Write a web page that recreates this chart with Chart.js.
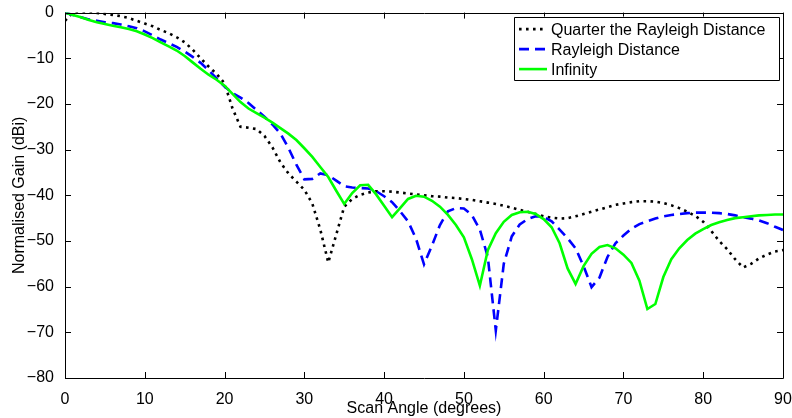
<!DOCTYPE html>
<html>
<head>
<meta charset="utf-8">
<script src="https://cdn.jsdelivr.net/npm/chart.js@4/dist/chart.umd.min.js"></script>
<style>
  html, body { margin: 0; padding: 0; background: #fff; }
  #wrap { width: 792px; height: 418px; }
</style>
</head>
<body>
<div id="wrap"><canvas id="gain_chart" width="792" height="418"></canvas></div>
<script>
// scan angles in degrees, one point per degree
const angles = Array.from({ length: 91 }, (_, i) => i)

// normalised gain (dBi)
const quarter_rayleigh = [
  -1.8, 0, 0, 0, -0.1, -0.3, -0.5, -0.8, -1.2, -1.8,
  -2.4, -3.0, -3.8, -4.5, -5.4, -6.5, -8.1, -10.0, -11.8, -13.4,
  -15.5, -21.0, -25.0, -25.2, -25.5, -27.0, -29.5, -32.8, -35.2, -37.0,
  -38.8, -41.8, -47.5, -54.7, -48.6, -42.5, -40.8, -39.9, -39.4, -39.1,
  -39.1, -39.2, -39.4, -39.6, -39.8, -40.0, -40.2, -40.3, -40.5, -40.6,
  -40.8, -41.0, -41.3, -41.6, -41.9, -42.3, -42.7, -43.2, -43.6, -44.1,
  -44.6, -44.9, -45.1, -45.0, -44.6, -44.1, -43.6, -43.1, -42.6, -42.1,
  -41.8, -41.5, -41.3, -41.3, -41.4, -41.7, -42.2, -42.8, -43.6, -44.5,
  -45.8, -47.8, -50.0, -51.8, -54.0, -55.8, -55.0, -53.8, -53.0, -52.3,
  -52.0
]

const rayleigh = [
  0, -0.5, -1.0, -1.5, -1.8, -2.1, -2.3, -2.6, -3.0, -3.4,
  -4.1, -5.0, -5.9, -6.7, -7.5, -8.5, -9.7, -11.0, -12.6, -14.4,
  -16.2, -17.6, -18.6, -19.8, -21.3, -22.8, -24.5, -26.5, -29.6, -33.3,
  -36.5, -36.4, -35.2, -35.6, -36.8, -38.0, -38.3, -38.4, -38.5, -39.1,
  -40.2, -41.5, -43.5, -45.7, -49.5, -55.1, -51.0, -46.5, -43.5, -42.8,
  -42.9, -44.3, -47.5, -53.5, -69.6, -55.0, -49.0, -46.4, -45.2, -44.6,
  -44.7, -45.7, -47.5, -49.4, -51.6, -55.5, -60.1, -58.0, -53.5, -50.5,
  -48.8, -47.3, -46.3, -45.7, -45.1, -44.6, -44.3, -44.1, -43.9, -43.8,
  -43.8, -43.8, -43.9, -44.1, -44.4, -44.8, -45.1, -45.5, -46.1, -46.9,
  -47.6
]

const infinity = [
  0, -0.5, -1.0, -1.6, -2.1, -2.5, -2.9, -3.2, -3.6, -4.1,
  -4.8, -5.6, -6.5, -7.4, -8.3, -9.5, -10.9, -12.3, -13.6, -14.7,
  -16.0, -17.8, -19.6, -21.0, -22.0, -23.0, -24.1, -25.3, -26.5, -27.9,
  -29.7, -31.6, -33.8, -36.0, -39.0, -41.9, -39.5, -37.8, -37.7, -39.8,
  -42.3, -44.8, -42.8, -40.8, -40.1, -40.3, -41.2, -42.5, -44.3, -46.5,
  -49.2, -54.0, -59.8, -52.0, -48.3, -45.8, -44.3, -43.7, -43.6, -44.1,
  -45.2, -47.0, -50.5, -56.0, -59.4, -55.5, -52.8, -51.3, -50.9, -51.6,
  -53.0, -54.8, -58.7, -64.9, -63.8, -57.9, -54.0, -51.6, -49.8, -48.4,
  -47.4, -46.5, -45.9, -45.4, -45.0, -44.8, -44.6, -44.4, -44.3, -44.2,
  -44.2
]

const series_names = ["Quarter the Rayleigh Distance", "Rayleigh Distance", "Infinity"]
const x_ticks = [0, 10, 20, 30, 40, 50, 60, 70, 80, 90]
const y_ticks = [-80, -70, -60, -50, -40, -30, -20, -10, 0]

const font_name = "'Liberation Sans', Arial, sans-serif"

function to_points(vals) {
  return angles.map((a, i) => ({ x: a, y: vals[i] }))
}

// matlab style box with inward ticks and the legend in the corner
const box_plugin = {
  id: 'box_plugin',
  afterDatasetsDraw(chart) {
    const ctx = chart.ctx
    const a = chart.chartArea
    const xs = chart.scales.x
    const ys = chart.scales.y
    const tl = 6
    ctx.save()
    ctx.strokeStyle = '#000'
    ctx.lineWidth = 1
    ctx.beginPath()
    ctx.rect(Math.round(a.left) + 0.5, Math.round(a.top) + 0.5,
             Math.round(a.right - a.left), Math.round(a.bottom - a.top))
    x_ticks.forEach(v => {
      const px = Math.round(xs.getPixelForValue(v)) + 0.5
      ctx.moveTo(px, a.bottom); ctx.lineTo(px, a.bottom - tl)
      ctx.moveTo(px, a.top); ctx.lineTo(px, a.top + tl)
    })
    y_ticks.forEach(v => {
      const py = Math.round(ys.getPixelForValue(v)) + 0.5
      ctx.moveTo(a.left, py); ctx.lineTo(a.left + tl, py)
      ctx.moveTo(a.right, py); ctx.lineTo(a.right - tl, py)
    })
    ctx.stroke()

    // legend
    const lx1 = a.right - 269, lx2 = a.right - 4
    const ly1 = a.top + 4, ly2 = a.top + 67
    ctx.fillStyle = '#fff'
    ctx.fillRect(lx1, ly1, lx2 - lx1, ly2 - ly1)
    ctx.beginPath()
    ctx.rect(Math.round(lx1) + 0.5, Math.round(ly1) + 0.5, Math.round(lx2 - lx1), Math.round(ly2 - ly1))
    ctx.stroke()
    ctx.font = '16px ' + font_name
    ctx.textBaseline = 'middle'
    chart.data.datasets.forEach((ds, i) => {
      const yy = ly1 + 12.5 + i * 20
      ctx.strokeStyle = ds.borderColor
      ctx.lineWidth = ds.borderWidth
      ctx.lineCap = 'butt'
      ctx.setLineDash(ds.borderDash || [])
      ctx.beginPath()
      ctx.moveTo(lx1 + 5, yy); ctx.lineTo(lx1 + 33, yy)
      ctx.stroke()
      ctx.setLineDash([])
      ctx.fillStyle = '#000'
      ctx.fillText(ds.label, lx1 + 37, yy + 1)
    })
    ctx.restore()
  }
}

new Chart(document.getElementById('gain_chart'), {
  type: 'line',
  data: {
    datasets: [
      { label: series_names[0], data: to_points(quarter_rayleigh), borderColor: '#000000',
        borderWidth: 2.6, borderDash: [2.6, 4.4], order: 2 },
      { label: series_names[1], data: to_points(rayleigh), borderColor: '#0000ff',
        borderWidth: 2.6, borderDash: [10, 6], order: 1 },
      { label: series_names[2], data: to_points(infinity), borderColor: '#00ff00',
        borderWidth: 2.6, order: 0 }
    ]
  },
  options: {
    responsive: false,
    animation: false,
    events: [],
    elements: { point: { radius: 0 }, line: { tension: 0, borderCapStyle: 'butt' } },
    layout: { padding: { top: 10, right: 9, left: 0, bottom: 0 } },
    plugins: { legend: { display: false }, tooltip: { enabled: false } },
    scales: {
      x: {
        type: 'linear', min: 0, max: 90,
        afterFit: s => { s.height = 40; s.paddingLeft = 0; s.paddingRight = 0 },
        afterBuildTicks: s => { s.ticks = x_ticks.map(v => ({ value: v })) },
        grid: { display: false },
        border: { display: false },
        ticks: { color: '#000', padding: 4, font: { family: font_name, size: 16 }, maxRotation: 0 },
        title: { display: true, text: 'Scan Angle (degrees)', color: '#000',
                 font: { family: font_name, size: 16 }, padding: { top: -6, bottom: 0 } }
      },
      y: {
        min: -80, max: 0,
        afterFit: s => { s.width = 65 },
        afterBuildTicks: s => { s.ticks = y_ticks.map(v => ({ value: v })) },
        grid: { display: false },
        border: { display: false },
        ticks: { color: '#000', padding: 3, font: { family: font_name, size: 16 },
                 callback: v => String(v).replace('-', '\u2212') },
        title: { display: true, text: 'Normalised Gain (dBi)', color: '#000',
                 font: { family: font_name, size: 16 }, padding: { top: 10, bottom: 0 } }
      }
    }
  },
  plugins: [box_plugin]
})
</script>
</body>
</html>
